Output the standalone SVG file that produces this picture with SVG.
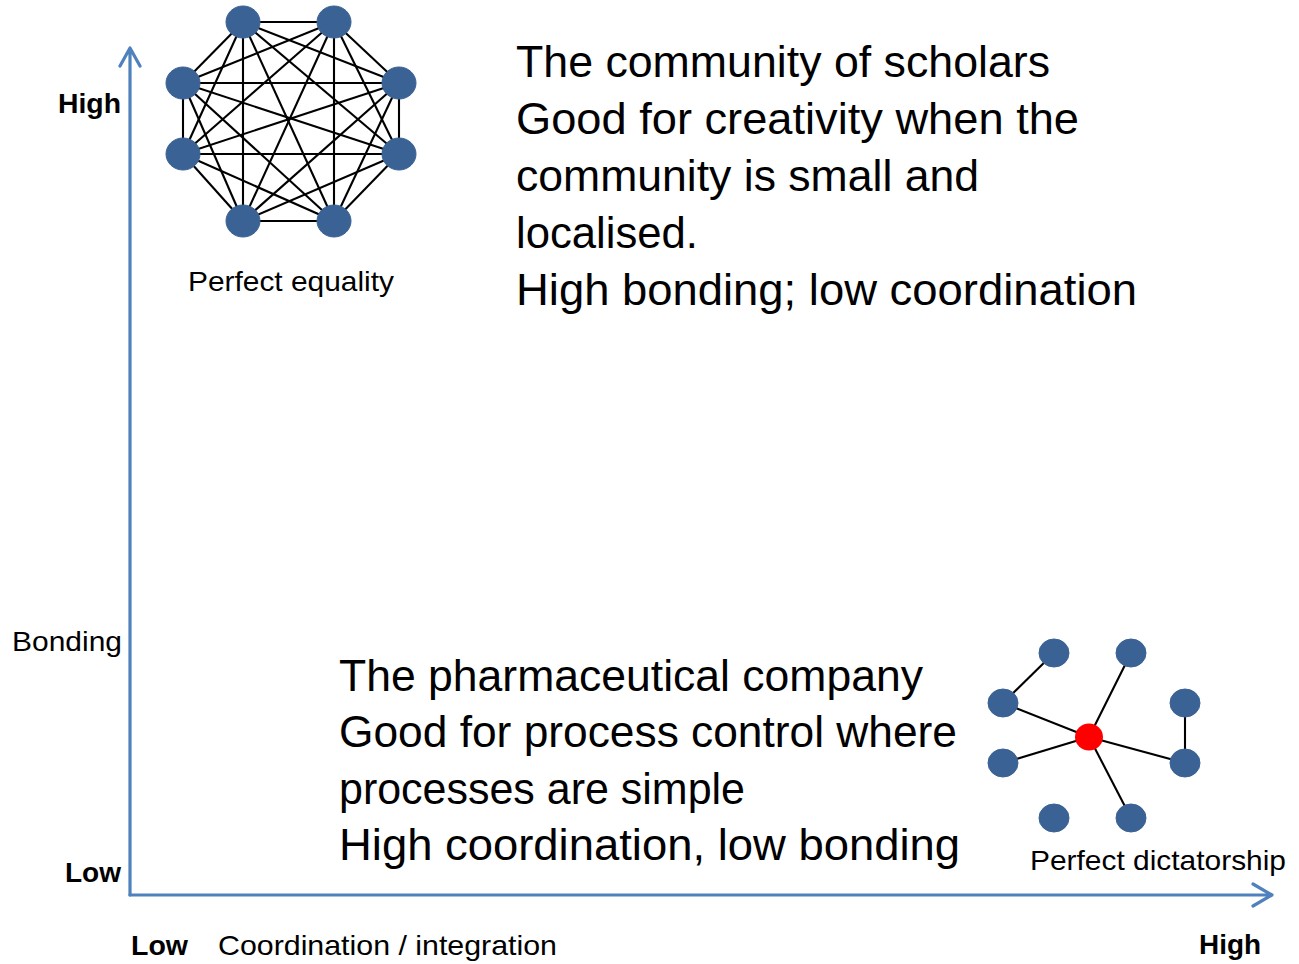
<svg xmlns="http://www.w3.org/2000/svg" width="1299" height="964" viewBox="0 0 1299 964">
<style>
  .axis{fill:none;stroke:#4F81BD;stroke-width:3.2;stroke-linecap:round;stroke-linejoin:round}
  .edge{stroke:#000;stroke-width:2.1}
  .node{fill:#3A6294;stroke:#3A6294;stroke-width:1}
  .hub{fill:#FF0000}
  .big{font-family:"Liberation Sans",Arial,sans-serif;font-size:44px;fill:#000}
  .lbl{font-family:"Liberation Sans",Arial,sans-serif;font-size:28px;fill:#000}
  .bold{font-family:"Liberation Sans",Arial,sans-serif;font-size:28px;font-weight:bold;fill:#000}
</style>
<rect width="1299" height="964" fill="#fff"/>

<g id="axes">
  <path class="axis" d="M130,895 L130,48 M120,66 L130,48 L140,66"/>
  <path class="axis" d="M130,895 L1272,895 M1253,884 L1272,895 L1253,906"/>
</g>

<g id="connectors">
  <g id="equality-edges">
    <line class="edge" x1="243" y1="22" x2="334" y2="22"/>
    <line class="edge" x1="243" y1="22" x2="183" y2="83"/>
    <line class="edge" x1="243" y1="22" x2="399" y2="83"/>
    <line class="edge" x1="243" y1="22" x2="183" y2="154"/>
    <line class="edge" x1="243" y1="22" x2="399" y2="154"/>
    <line class="edge" x1="243" y1="22" x2="243" y2="221"/>
    <line class="edge" x1="243" y1="22" x2="334" y2="221"/>
    <line class="edge" x1="334" y1="22" x2="183" y2="83"/>
    <line class="edge" x1="334" y1="22" x2="399" y2="83"/>
    <line class="edge" x1="334" y1="22" x2="183" y2="154"/>
    <line class="edge" x1="334" y1="22" x2="399" y2="154"/>
    <line class="edge" x1="334" y1="22" x2="243" y2="221"/>
    <line class="edge" x1="334" y1="22" x2="334" y2="221"/>
    <line class="edge" x1="183" y1="83" x2="399" y2="83"/>
    <line class="edge" x1="183" y1="83" x2="183" y2="154"/>
    <line class="edge" x1="183" y1="83" x2="399" y2="154"/>
    <line class="edge" x1="183" y1="83" x2="243" y2="221"/>
    <line class="edge" x1="183" y1="83" x2="334" y2="221"/>
    <line class="edge" x1="399" y1="83" x2="183" y2="154"/>
    <line class="edge" x1="399" y1="83" x2="399" y2="154"/>
    <line class="edge" x1="399" y1="83" x2="243" y2="221"/>
    <line class="edge" x1="399" y1="83" x2="334" y2="221"/>
    <line class="edge" x1="183" y1="154" x2="399" y2="154"/>
    <line class="edge" x1="183" y1="154" x2="243" y2="221"/>
    <line class="edge" x1="183" y1="154" x2="334" y2="221"/>
    <line class="edge" x1="399" y1="154" x2="243" y2="221"/>
    <line class="edge" x1="399" y1="154" x2="334" y2="221"/>
    <line class="edge" x1="243" y1="221" x2="334" y2="221"/>
  </g>
  <g id="dictatorship-edges">
    <line class="edge" x1="1003" y1="703" x2="1054" y2="653"/>
    <line class="edge" x1="1003" y1="703" x2="1089" y2="737"/>
    <line class="edge" x1="1003" y1="763" x2="1089" y2="737"/>
    <line class="edge" x1="1131" y1="653" x2="1089" y2="737"/>
    <line class="edge" x1="1131" y1="818" x2="1089" y2="737"/>
    <line class="edge" x1="1185" y1="763" x2="1089" y2="737"/>
    <line class="edge" x1="1185" y1="703" x2="1185" y2="763"/>
  </g>
</g>

<g id="equality-network">
  <ellipse id="eq1" class="node" cx="243" cy="22" rx="17" ry="16"/>
  <ellipse id="eq2" class="node" cx="334" cy="22" rx="17" ry="16"/>
  <ellipse id="eq3" class="node" cx="183" cy="83" rx="17" ry="16"/>
  <ellipse id="eq4" class="node" cx="399" cy="83" rx="17" ry="16"/>
  <ellipse id="eq5" class="node" cx="183" cy="154" rx="17" ry="16"/>
  <ellipse id="eq6" class="node" cx="399" cy="154" rx="17" ry="16"/>
  <ellipse id="eq7" class="node" cx="243" cy="221" rx="17" ry="16"/>
  <ellipse id="eq8" class="node" cx="334" cy="221" rx="17" ry="16"/>
</g>

<g id="dictatorship-network">
  <ellipse id="d1" class="node" cx="1054" cy="653" rx="15" ry="14"/>
  <ellipse id="d2" class="node" cx="1131" cy="653" rx="15" ry="14"/>
  <ellipse id="d3" class="node" cx="1003" cy="703" rx="15" ry="14"/>
  <ellipse id="d4" class="node" cx="1185" cy="703" rx="15" ry="14"/>
  <ellipse id="d5" class="node" cx="1003" cy="763" rx="15" ry="14"/>
  <ellipse id="d6" class="node" cx="1185" cy="763" rx="15" ry="14"/>
  <ellipse id="d7" class="node" cx="1054" cy="818" rx="15" ry="14"/>
  <ellipse id="d8" class="node" cx="1131" cy="818" rx="15" ry="14"/>
  <ellipse id="hub" class="hub" cx="1089" cy="737" rx="14" ry="13.5"/>
</g>

<g id="scholars-text">
  <text class="big" x="516" y="77" textLength="534" lengthAdjust="spacingAndGlyphs">The community of scholars</text>
  <text class="big" x="516" y="134" textLength="563" lengthAdjust="spacingAndGlyphs">Good for creativity when the</text>
  <text class="big" x="516" y="191" textLength="463" lengthAdjust="spacingAndGlyphs">community is small and</text>
  <text class="big" x="516" y="248" textLength="182" lengthAdjust="spacingAndGlyphs">localised.</text>
  <text class="big" x="516" y="305" textLength="621" lengthAdjust="spacingAndGlyphs">High bonding; low coordination</text>
</g>

<g id="pharma-text">
  <text class="big" x="339" y="691" textLength="584" lengthAdjust="spacingAndGlyphs">The pharmaceutical company</text>
  <text class="big" x="339" y="747" textLength="618" lengthAdjust="spacingAndGlyphs">Good for process control where</text>
  <text class="big" x="339" y="804" textLength="406" lengthAdjust="spacingAndGlyphs">processes are simple</text>
  <text class="big" x="339" y="860" textLength="621" lengthAdjust="spacingAndGlyphs">High coordination, low bonding</text>
</g>

<g id="labels">
  <text class="lbl" x="188" y="291" textLength="206" lengthAdjust="spacingAndGlyphs">Perfect equality</text>
  <text class="lbl" x="1030" y="870" textLength="256" lengthAdjust="spacingAndGlyphs">Perfect dictatorship</text>
  <text class="lbl" x="12" y="651" textLength="110" lengthAdjust="spacingAndGlyphs">Bonding</text>
  <text class="bold" x="58" y="113" textLength="63" lengthAdjust="spacingAndGlyphs">High</text>
  <text class="bold" x="65" y="882" textLength="56" lengthAdjust="spacingAndGlyphs">Low</text>
  <text class="bold" x="131" y="955" textLength="57" lengthAdjust="spacingAndGlyphs">Low</text>
  <text class="lbl" x="218" y="955" textLength="339" lengthAdjust="spacingAndGlyphs">Coordination / integration</text>
  <text class="bold" x="1199" y="954" textLength="62" lengthAdjust="spacingAndGlyphs">High</text>
</g>
</svg>
